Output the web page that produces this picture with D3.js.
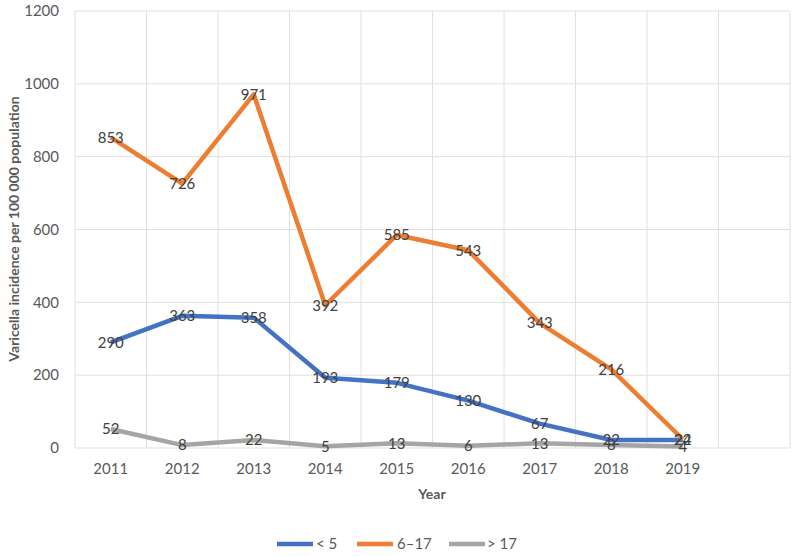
<!DOCTYPE html>
<html><head><meta charset="utf-8">
<script src="https://cdn.jsdelivr.net/npm/d3@7"></script>
<style>body{margin:0;background:#fff}svg{display:block}</style>
</head><body><svg id="c" width="800" height="556"></svg>
<script>
const years = ["2011","2012","2013","2014","2015","2016","2017","2018","2019",""];
const seriesNames = ["< 5","6–17","> 17"];
const under5 = [290,363,358,193,179,130,67,22,22];
const age6to17 = [853,726,971,392,585,543,343,216,24];
const over17 = [52,8,22,5,13,6,13,8,4];
const yTicks = [0,200,400,600,800,1000,1200];
const colors = ["#4472C4","#ED7D31","#A5A5A5"];
const allSeries = [under5, age6to17, over17];

const svg = d3.select("#c");
const font = "Lato, 'Open Sans', sans-serif";
const L = 75, R = 790, T = 11, B = 448;
const x = d3.scaleBand().domain(years.map((d,i)=>i)).range([L,R]);
const y = d3.scaleLinear().domain([0,1200]).range([B,T]);

// gridlines
const g = svg.append("g");
g.selectAll(".h").data(yTicks).enter().append("line")
  .attr("x1",L).attr("x2",R).attr("y1",d=>y(d)).attr("y2",d=>y(d))
  .attr("stroke","#e0e0e0").attr("stroke-width",1);
const bounds = d3.range(years.length+1).map(i=> i<years.length ? x(i) : x(years.length-1)+x.bandwidth());
g.selectAll(".v").data(bounds).enter().append("line")
  .attr("x1",d=>d).attr("x2",d=>d).attr("y1",T).attr("y2",B)
  .attr("stroke","#e0e0e0").attr("stroke-width",1);

// y axis
const yAxis = d3.axisLeft(y).tickValues(yTicks).tickFormat(d3.format("d")).tickSize(0).tickPadding(16);
const ya = svg.append("g").attr("transform",`translate(${L},0)`).call(yAxis);
ya.select(".domain").remove();
ya.selectAll("text").attr("font-family",font).attr("font-size",15).attr("fill","#595959");

// x axis
const xAxis = d3.axisBottom(x).tickFormat(i=>years[i]).tickSize(0).tickPadding(15);
const xa = svg.append("g").attr("transform",`translate(0,${B})`).call(xAxis);
xa.select(".domain").remove();
xa.selectAll("text").attr("font-family",font).attr("font-size",15).attr("fill","#595959");

// axis titles
svg.append("text").attr("x",432).attr("y",499).attr("text-anchor","middle")
  .attr("font-family",font).attr("font-size",14).attr("font-weight","bold").attr("fill","#595959").text("Year");
svg.append("text").attr("transform","translate(19,229) rotate(-90)").attr("text-anchor","middle")
  .attr("font-family",font).attr("font-size",14).attr("font-weight","bold").attr("fill","#595959")
  .text("Varicella incidence per 100 000 population");

// lines
const cx = i => x(i)+x.bandwidth()/2;
const line = d3.line().x((d,i)=>cx(i)).y(d=>y(d));
allSeries.forEach((s,k)=>{
  svg.append("path").datum(s).attr("d",line).attr("fill","none")
    .attr("stroke",colors[k]).attr("stroke-width",4.5).attr("stroke-linejoin","round");
});
// labels
allSeries.forEach((s,k)=>{
  svg.append("g").selectAll("text").data(s).enter().append("text")
    .attr("x",(d,i)=>cx(i)).attr("y",d=>y(d)).attr("dy","0.36em").attr("text-anchor","middle")
    .attr("font-family",font).attr("font-size",15).attr("fill","#404040").text(d=>d);
});

// legend
const legendItems = [{x:277,tx:316},{x:357,tx:397},{x:449,tx:487}];
seriesNames.forEach((n,k)=>{
  const it = legendItems[k];
  svg.append("line").attr("x1",it.x).attr("x2",it.x+36).attr("y1",544).attr("y2",544)
    .attr("stroke",colors[k]).attr("stroke-width",4.5);
  svg.append("text").attr("x",it.tx).attr("y",544).attr("dy","0.36em")
    .attr("font-family",font).attr("font-size",15).attr("fill","#595959").text(n);
});
</script></body></html>
